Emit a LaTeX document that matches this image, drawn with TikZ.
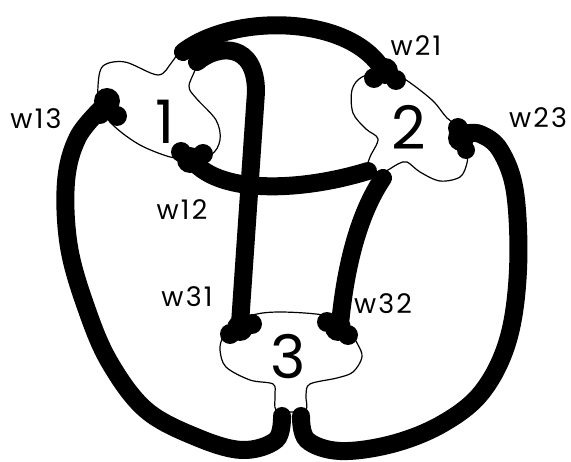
\documentclass[tikz,border=0pt]{standalone}
\usepackage{fontspec}
\setmainfont{Poppins}
\begin{document}
\begin{tikzpicture}[x=1pt,y=-1pt,
  membrane/.style={draw=black,line width=1.2pt,fill=white},
  axon/.style={draw=black,line width=18pt,line cap=round},
  lab/.style={font=\fontsize{27}{29}\selectfont\addfontfeatures{LetterSpace=8}},
  num/.style={font=\fontsize{60}{62}\selectfont}]
\useasboundingbox (0,0) rectangle (571,462);
% neurons
\draw[membrane] plot[smooth cycle,tension=0.55] coordinates {
 (98,86) (103,66) (125,62) (158,75) (172,62) (182,50) (196,64) (189,86)
 (196,98) (216,120) (220,140) (210,155) (180,156) (170,157) (140,145)
 (114,126) (100,106)};
\draw[membrane] plot[smooth cycle,tension=0.55] coordinates {
 (385,72) (403,78) (432,100) (447,118) (462,130) (467,150) (467,163)
 (460,177) (440,181) (420,172) (407,162) (398,164) (383,172) (368,168)
 (370,157) (378,139) (366,129) (353,113) (352,90) (362,77)};
\draw[membrane] plot[smooth cycle,tension=0.55] coordinates {
 (232,326) (253,315) (280,312) (323,315) (345,324) (357,343) (362,357)
 (353,372) (337,378) (310,384) (306,395) (306,410) (291,412) (276,410)
 (275,395) (273,384) (250,380) (226,367) (220,350) (223,337)};
% named coordinates
\coordinate (a21) at (183,52);  \coordinate (s21) at (385,74);
\coordinate (a31) at (197,62);  \coordinate (s31) at (240,324);
\coordinate (a12) at (368,171); \coordinate (s12) at (190,157);
\coordinate (a32) at (383,178); \coordinate (s32) at (340,324);
\coordinate (a13) at (282,416); \coordinate (s13) at (104,106);
\coordinate (a23) at (301,416); \coordinate (s23) at (464,134);
% axons
\draw[axon] (a21) .. controls (235,12) and (355,15) .. (s21);
\draw[axon] (a31) .. controls (218,44) and (256,42) .. (256,92) -- (s31);
\draw[axon] (a12) .. controls (300,192) and (215,195) .. (s12);
\draw[axon] (a32) .. controls (360,212) and (346,262) .. (s32);
\draw[axon] plot[smooth,tension=0.6] coordinates {
 (a13) (276,440) (242,450) (196,437) (146,410) (110,363) (87,310)
 (69,247) (66,182) (78,137) (s13)};
\draw[axon] plot[smooth,tension=0.6] coordinates {
 (a23) (307,440) (340,451) (392,444) (442,424) (482,392) (508,340)
 (518,270) (515,192) (500,150) (480,134) (s23)};
% synapses
\fill (385,71) circle (13pt) (374,78) circle (10pt) (396,80) circle (10pt);
\fill (107,101) circle (13pt) (100,114) circle (10pt) (117,116) circle (10pt);
\fill (190,160) circle (13pt) (181,152) circle (10pt) (203,154) circle (10pt);
\fill (461,138) circle (13pt) (458,128) circle (10pt) (466,150) circle (9pt);
\fill (240,328) circle (13pt) (230,334) circle (10pt) (252,324) circle (10pt);
\fill (338,328) circle (13pt) (327,322) circle (10pt) (348,335) circle (10pt);
% labels
\node[num] (n1) at (165,122) {1};
\node[num] (n2) at (409,127) {2};
\node[num] (n3) at (288,357) {3};
\node[lab] (l13) at (36,119) {w13};
\node[lab] (l21) at (416,46) {w21};
\node[lab] (l23) at (538,118) {w23};
\node[lab] (l12) at (182,210) {w12};
\node[lab] (l31) at (187,297) {w31};
\node[lab] (l32) at (383,304) {w32};
\end{tikzpicture}
\end{document}
